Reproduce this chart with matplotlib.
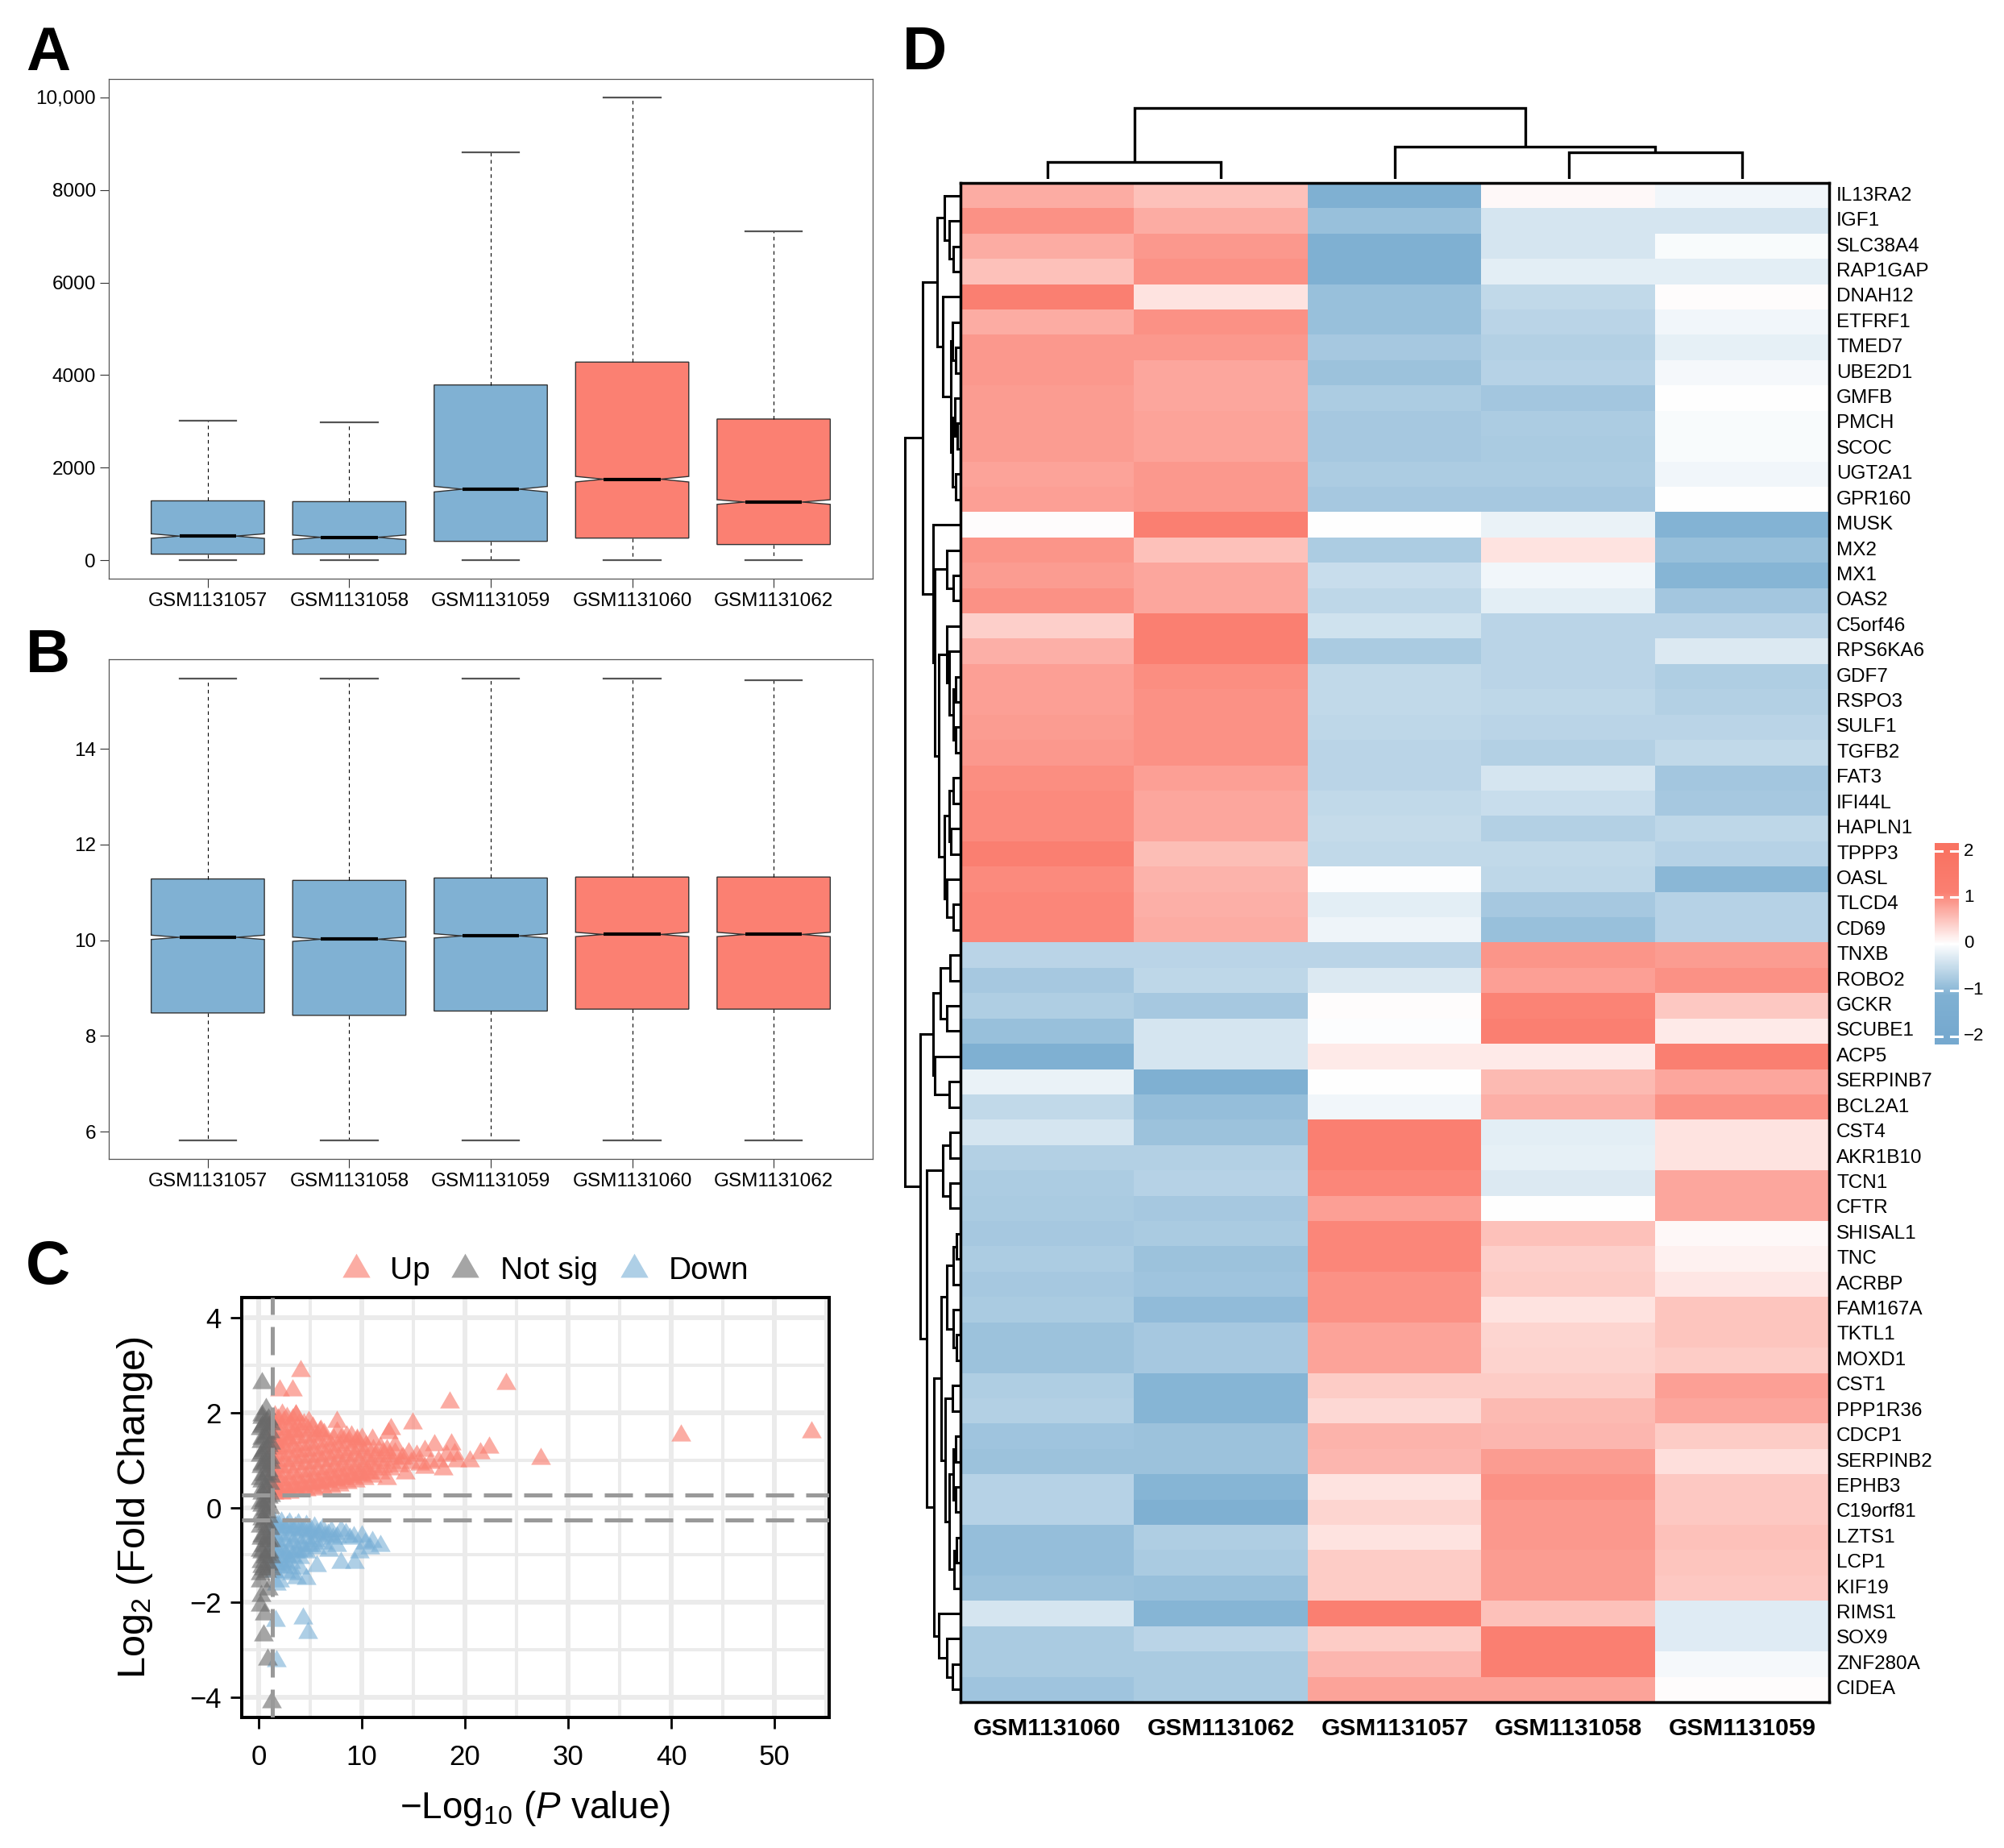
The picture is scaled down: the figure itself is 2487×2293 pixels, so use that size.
import numpy as np
import matplotlib
matplotlib.use('Agg')
import matplotlib.pyplot as plt
from matplotlib import font_manager as fm
from matplotlib.colors import LinearSegmentedColormap

plt.rcParams['font.family'] = ['Liberation Sans', 'DejaVu Sans']
plt.rcParams['mathtext.fontset'] = 'custom'
plt.rcParams['mathtext.rm'] = 'Liberation Sans'
plt.rcParams['mathtext.it'] = 'Liberation Sans:italic'
plt.rcParams['mathtext.bf'] = 'Liberation Sans:bold'

_names = {f.name for f in fm.fontManager.ttflist}
NARROW = 'Liberation Sans Narrow' if 'Liberation Sans Narrow' in _names else None

# ---------------- data: panels A and B ----------------
samples = ['GSM1131057', 'GSM1131058', 'GSM1131059', 'GSM1131060', 'GSM1131062']
box_colors = ['#80B1D3', '#80B1D3', '#80B1D3', '#FB8072', '#FB8072']

A_whislo = [0, 0, 0, 0, 0]
A_q1 = [130, 130, 407, 477, 338]
A_med = [520, 494, 1534, 1750, 1256]
A_q3 = [1282, 1265, 3787, 4281, 3050]
A_whishi = [3007, 2972, 8813, 10000, 7106]
A_notch = [50, 50, 60, 60, 50]

B_whislo = [5.81, 5.81, 5.81, 5.81, 5.81]
B_q1 = [8.48, 8.43, 8.52, 8.56, 8.56]
B_med = [10.06, 10.02, 10.09, 10.12, 10.12]
B_q3 = [11.28, 11.25, 11.30, 11.32, 11.32]
B_whishi = [15.47, 15.47, 15.46, 15.46, 15.44]
B_notch = [0.045, 0.045, 0.045, 0.045, 0.045]

# ---------------- data: panel C (volcano) ----------------
up_x = [4.04, 2.0, 3.26, 24.0, 18.5, 7.55, 14.9, 12.8, 12.55, 11.0, 17.0, 18.7, 22.3, 21.5,
        20.5, 27.3, 3.57, 4.87, 5.9, 8.5, 9.5, 16.1, 18.2, 19.2, 16.1, 17.9, 14.2, 12.4, 15.3,
        13.2, 14.5, 17.4, 19.0, 11.8, 40.9, 53.6,
        1.45, 1.6, 1.5, 1.65, 1.45, 1.6, 1.5, 1.65, 1.45, 1.6, 1.5, 1.65, 1.5, 1.6,
        2.2, 2.4, 2.25, 2.45, 2.2, 2.4, 2.3, 2.45, 2.2, 2.4, 2.3, 2.45, 2.3,
        3.0, 3.2, 3.05, 3.25, 3.0, 3.2, 3.1, 3.25, 3.0, 3.2, 3.1, 3.3,
        3.8, 4.0, 3.85, 4.05, 3.8, 4.0, 3.9, 4.05, 3.85, 4.0, 3.9,
        4.6, 4.8, 4.65, 4.85, 4.6, 4.8, 4.7, 4.85, 4.65, 4.8,
        5.4, 5.6, 5.45, 5.65, 5.4, 5.6, 5.5, 5.65, 5.5,
        6.2, 6.4, 6.25, 6.45, 6.2, 6.4, 6.3, 6.45, 6.3,
        7.0, 7.2, 7.05, 7.25, 7.0, 7.2, 7.1, 7.25,
        7.8, 8.0, 7.85, 8.05, 7.8, 8.0, 7.9, 8.05,
        8.6, 8.8, 8.65, 8.85, 8.6, 8.8, 8.7,
        9.4, 9.6, 9.45, 9.65, 9.4, 9.6, 9.5,
        10.2, 10.4, 10.25, 10.45, 10.2, 10.4,
        11.0, 11.2, 11.05, 11.25, 11.1,
        11.8, 12.0, 11.85, 12.05,
        12.7, 12.9, 12.75, 13.6, 13.8,
        1.9, 2.7, 3.5, 4.3, 5.1, 5.9, 6.7, 7.5, 8.3, 9.1, 9.9, 10.7, 1.9, 2.7, 3.5,
        1.9, 2.7, 3.6, 4.4, 5.2, 6.0, 7.6, 9.0, 10.0, 12.4, 13.2, 14.0, 14.8, 15.6, 16.6]
up_y = [2.87, 2.47, 2.47, 2.60, 2.22, 1.80, 1.77, 1.66, 1.57, 1.43, 1.32, 1.34, 1.26, 1.15,
        0.98, 1.03, 1.94, 1.80, 1.60, 1.51, 1.43, 1.20, 1.09, 0.98, 0.84, 0.81, 0.72, 0.61, 1.09,
        1.32, 1.15, 0.98, 1.12, 1.26, 1.52, 1.59,
        0.29, 0.40, 0.52, 0.64, 0.76, 0.88, 1.00, 1.12, 1.24, 1.37, 1.50, 1.63, 1.77, 1.92,
        0.30, 0.43, 0.57, 0.70, 0.84, 0.97, 1.10, 1.24, 1.38, 1.52, 1.66, 1.80, 1.96,
        0.32, 0.45, 0.59, 0.72, 0.86, 1.00, 1.14, 1.28, 1.42, 1.56, 1.71, 1.86,
        0.34, 0.48, 0.62, 0.76, 0.90, 1.04, 1.18, 1.32, 1.46, 1.61, 1.76,
        0.36, 0.50, 0.64, 0.78, 0.92, 1.06, 1.20, 1.34, 1.48, 1.63,
        0.38, 0.52, 0.66, 0.80, 0.94, 1.08, 1.22, 1.36, 1.52,
        0.41, 0.55, 0.69, 0.83, 0.97, 1.11, 1.25, 1.40, 1.55,
        0.44, 0.58, 0.72, 0.86, 1.00, 1.14, 1.28, 1.43,
        0.47, 0.61, 0.75, 0.89, 1.03, 1.17, 1.31, 1.46,
        0.51, 0.65, 0.79, 0.93, 1.07, 1.21, 1.36,
        0.55, 0.69, 0.83, 0.97, 1.11, 1.25, 1.40,
        0.60, 0.74, 0.88, 1.02, 1.16, 1.30,
        0.66, 0.80, 0.94, 1.08, 1.22,
        0.72, 0.86, 1.00, 1.14,
        0.80, 0.94, 1.08, 0.88, 1.02,
        0.35, 0.38, 0.40, 0.44, 0.47, 0.50, 0.53, 0.56, 0.60, 0.63, 0.68, 0.72, 1.30, 1.45, 1.60,
        1.85, 1.90, 1.95, 1.75, 1.68, 1.62, 1.58, 1.50, 1.45, 1.22, 1.15, 1.05, 0.95, 0.90, 0.95]

ns_x = [0.15, 0.5, 0.9, 0.2, 0.6, 1.0, 0.15, 0.5, 0.95, 0.2, 0.6, 1.1, 0.15, 0.5, 0.9, 0.2,
        0.6, 1.1, 0.15, 0.5, 0.95, 0.2, 0.6, 1.1, 0.15, 0.5, 0.95, 0.2, 0.6, 1.1, 0.15, 0.5,
        0.95, 0.2, 0.6, 1.1, 0.15, 0.5, 0.95, 0.3, 0.7,
        0.35, 0.35, 0.35, 0.35, 0.35, 0.35, 0.35, 0.35, 0.35, 0.35, 0.35, 0.35,
        0.75, 0.75, 0.75, 0.75, 0.75, 0.75, 0.75, 0.75, 0.75, 0.75, 0.75, 0.75,
        1.15, 1.15, 1.15, 1.15, 1.15, 1.15, 1.15, 1.15,
        0.35, 0.18, 0.96, 0.25, 0.18, 0.57, 0.44, 0.83, 1.22]
ns_y = [-1.40, -1.30, -1.20, -1.15, -1.05, -0.95, -0.90, -0.80, -0.70, -0.65, -0.55, -0.45,
        -0.40, -0.30, -0.20, -0.15, -0.05, 0.00, 0.10, 0.15, 0.22, 0.35, 0.42, 0.50, 0.60,
        0.68, 0.78, 0.85, 0.95, 1.05, 1.10, 1.20, 1.30, 1.38, 1.48, 1.58, 1.65, 1.75, 1.85,
        1.95, 2.08,
        -1.25, -0.95, -0.60, -0.25, 0.05, 0.30, 0.55, 0.90, 1.15, 1.45, 1.70, 1.90,
        -1.35, -1.00, -0.65, -0.35, -0.10, 0.12, 0.40, 0.70, 1.00, 1.25, 1.55, 1.80,
        -1.30, -1.05, -0.70, 0.25, 0.65, 0.95, 1.35, 1.75,
        2.62, -1.56, -1.73, -1.85, -2.07, -2.24, -2.69, -3.20, -4.10]

down_x = [1.45, 1.6, 1.5, 1.65, 1.45, 1.6, 1.5, 1.65, 1.5,
          2.2, 2.4, 2.25, 2.45, 2.2, 2.4, 2.3, 2.45,
          3.0, 3.2, 3.05, 3.25, 3.0, 3.2, 3.1,
          3.8, 4.0, 3.85, 4.05, 3.8, 4.0,
          4.6, 4.8, 4.65, 4.85, 4.6,
          5.4, 5.6, 5.45, 5.65,
          6.2, 6.4, 6.25,
          7.0, 7.2,
          1.9, 2.7, 3.5, 4.3, 5.1, 5.9, 6.7, 1.9, 2.7, 3.5, 4.3, 5.1, 1.9, 2.7, 6.8, 7.6,
          8.4, 9.2, 10.0, 10.8,
          1.61, 4.3, 4.74, 1.74, 8.0, 9.3, 11.8, 11.0, 9.8, 3.96, 4.6, 3.7, 5.65, 1.74,
          2.66, 8.0, 8.8, 7.6, 10.3, 2.0, 3.2]
down_y = [-0.30, -0.42, -0.55, -0.68, -0.81, -0.94, -1.07, -1.20, -1.35,
          -0.31, -0.44, -0.57, -0.70, -0.84, -0.98, -1.12, -1.27,
          -0.33, -0.46, -0.60, -0.74, -0.88, -1.02, -1.16,
          -0.35, -0.49, -0.63, -0.77, -0.92, -1.06,
          -0.38, -0.52, -0.66, -0.80, -0.95,
          -0.41, -0.55, -0.70, -0.85,
          -0.45, -0.60, -0.75,
          -0.50, -0.65,
          -0.36, -0.40, -0.42, -0.45, -0.48, -0.52, -0.56, -0.90, -1.05, -0.95, -0.90, -0.80,
          -1.25, -1.20, -0.90, -0.62, -0.55, -0.62, -0.60, -0.85,
          -2.38, -2.33, -2.64, -3.23, -1.17, -1.17, -0.80, -0.72, -0.94, -1.28, -1.51, -1.48,
          -1.23, -1.62, -1.37, -0.49, -0.66, -0.80, -0.75, -1.55, -1.40]

p_cut = 1.301
fc_cut = 0.263

# ---------------- data: panel D (heatmap) ----------------
hm_samples = ['GSM1131060', 'GSM1131062', 'GSM1131057', 'GSM1131058', 'GSM1131059']
genes = ['IL13RA2', 'IGF1', 'SLC38A4', 'RAP1GAP', 'DNAH12', 'ETFRF1', 'TMED7', 'UBE2D1',
         'GMFB', 'PMCH', 'SCOC', 'UGT2A1', 'GPR160', 'MUSK', 'MX2', 'MX1', 'OAS2', 'C5orf46',
         'RPS6KA6', 'GDF7', 'RSPO3', 'SULF1', 'TGFB2', 'FAT3', 'IFI44L', 'HAPLN1', 'TPPP3',
         'OASL', 'TLCD4', 'CD69', 'TNXB', 'ROBO2', 'GCKR', 'SCUBE1', 'ACP5', 'SERPINB7',
         'BCL2A1', 'CST4', 'AKR1B10', 'TCN1', 'CFTR', 'SHISAL1', 'TNC', 'ACRBP', 'FAM167A',
         'TKTL1', 'MOXD1', 'CST1', 'PPP1R36', 'CDCP1', 'SERPINB2', 'EPHB3', 'C19orf81',
         'LZTS1', 'LCP1', 'KIF19', 'RIMS1', 'SOX9', 'ZNF280A', 'CIDEA']
hm_values = [
    [0.72, 0.54, -1.14, 0.06, -0.12],
    [0.96, 0.72, -0.90, -0.36, -0.36],
    [0.72, 0.90, -1.14, -0.36, -0.06],
    [0.54, 0.96, -1.14, -0.24, -0.24],
    [1.17, 0.24, -0.90, -0.54, 0.03],
    [0.72, 0.96, -0.90, -0.60, -0.12],
    [0.90, 0.90, -0.78, -0.66, -0.21],
    [0.90, 0.78, -0.87, -0.63, -0.09],
    [0.87, 0.78, -0.72, -0.81, 0.00],
    [0.87, 0.81, -0.78, -0.72, -0.06],
    [0.87, 0.81, -0.78, -0.75, -0.06],
    [0.81, 0.90, -0.72, -0.72, -0.12],
    [0.84, 0.90, -0.78, -0.78, 0.00],
    [0.03, 1.14, 0.00, -0.18, -1.08],
    [0.93, 0.54, -0.72, 0.24, -0.90],
    [0.87, 0.78, -0.48, -0.12, -1.05],
    [0.96, 0.78, -0.57, -0.24, -0.81],
    [0.42, 1.14, -0.42, -0.60, -0.60],
    [0.69, 1.11, -0.75, -0.60, -0.30],
    [0.84, 0.99, -0.54, -0.60, -0.69],
    [0.84, 0.96, -0.54, -0.57, -0.66],
    [0.87, 0.96, -0.57, -0.60, -0.60],
    [0.90, 0.96, -0.60, -0.66, -0.54],
    [0.99, 0.84, -0.60, -0.36, -0.81],
    [1.02, 0.78, -0.54, -0.48, -0.78],
    [1.02, 0.78, -0.51, -0.66, -0.57],
    [1.17, 0.57, -0.54, -0.54, -0.63],
    [1.02, 0.66, -0.03, -0.57, -1.02],
    [1.05, 0.69, -0.24, -0.78, -0.63],
    [1.05, 0.72, -0.15, -0.90, -0.63],
    [-0.60, -0.60, -0.60, 0.93, 0.87],
    [-0.78, -0.57, -0.30, 0.84, 0.96],
    [-0.69, -0.78, 0.03, 1.08, 0.48],
    [-0.90, -0.36, -0.03, 1.17, 0.18],
    [-1.14, -0.36, 0.18, 0.18, 1.17],
    [-0.18, -1.14, 0.00, 0.60, 0.78],
    [-0.54, -0.93, -0.12, 0.69, 0.96],
    [-0.36, -0.87, 1.17, -0.24, 0.24],
    [-0.66, -0.66, 1.17, -0.21, 0.24],
    [-0.72, -0.63, 1.05, -0.30, 0.78],
    [-0.75, -0.78, 0.84, 0.00, 0.78],
    [-0.78, -0.75, 1.05, 0.54, 0.06],
    [-0.72, -0.87, 1.05, 0.42, 0.12],
    [-0.78, -0.84, 0.96, 0.45, 0.21],
    [-0.75, -0.96, 0.96, 0.24, 0.51],
    [-0.87, -0.78, 0.81, 0.36, 0.51],
    [-0.87, -0.78, 0.81, 0.39, 0.45],
    [-0.69, -1.05, 0.45, 0.45, 0.84],
    [-0.66, -1.05, 0.33, 0.60, 0.78],
    [-0.84, -0.87, 0.66, 0.63, 0.45],
    [-0.87, -0.87, 0.63, 0.87, 0.27],
    [-0.63, -1.05, 0.24, 0.96, 0.48],
    [-0.63, -1.14, 0.36, 0.90, 0.48],
    [-0.93, -0.69, 0.24, 0.90, 0.54],
    [-0.93, -0.75, 0.45, 0.87, 0.51],
    [-0.87, -0.90, 0.45, 0.87, 0.48],
    [-0.36, -1.05, 1.17, 0.54, -0.27],
    [-0.75, -0.60, 0.45, 1.17, -0.27],
    [-0.75, -0.75, 0.63, 1.11, -0.09],
    [-0.84, -0.75, 0.81, 0.81, 0.03],
]

# dendrograms: (height, left, right); leaves are 1-based positions
row_tree = (68,
  (46,
    (28,
      (19, 1, (13, 2, (8, 3, 4))),
      (21, 5, (11, (9, 6, (5, 7, 8)), (9, (6, 9, (3, 10, 11)), (5, 12, 13))))),
    (33, 14,
      (31, (16, 15, (8, 16, 17)),
        (26,
          (16, 18, (13, 19, (8, (5, 20, 21), (5, 22, 23)))),
          (19, (13, (8, 24, 25), (11, 26, 27)), (16, 28, (8, 29, 30))))))),
  (49,
    (33, (24, (12, 31, 32), (16, 33, 34)), (31, 35, (13, 36, 37))),
    (41,
      (21, (12, 38, 39), (12, 40, 41)),
      (32,
        (23, (16, (8, (4, 42, 43), 44), (8, 45, (4, 46, 47))),
             (18, (9, 48, 49), (13, (8, (5, 50, 51), (5, 52, 53)), (7, (4, 54, 55), 56)))),
        (26, 57, (16, 58, (9, 59, 60)))))))
col_tree = (88, (21, 1, 2), (40, 3, (33, 4, 5)))

cbar_ticks = [2, 1, 0, -1, -2]
cbar_labels = ['2', '1', '0', '\u22121', '\u22122']

# ---------------- figure ----------------
W, H = 2487, 2293
DPI = 100
fig = plt.figure(figsize=(W / DPI, H / DPI), dpi=DPI)


def px_axes(l, t, r, b, **kw):
    return fig.add_axes([l / W, 1 - b / H, (r - l) / W, (b - t) / H], **kw)


def box_panel(ax, lo, q1, med, q3, hi, notch, ylim, yticks, yticklabels):
    stats = []
    for i in range(5):
        stats.append(dict(med=med[i], q1=q1[i], q3=q3[i], whislo=lo[i], whishi=hi[i],
                          cilo=med[i] - notch[i], cihi=med[i] + notch[i], fliers=[]))
    bp = ax.bxp(stats, positions=[1, 2, 3, 4, 5], widths=0.8, shownotches=True,
                patch_artist=True, showfliers=False, manage_ticks=False,
                boxprops=dict(edgecolor='#333333', linewidth=1.0),
                whiskerprops=dict(color='black', linestyle=(0, (4, 4)), linewidth=0.8),
                capprops=dict(color='#555555', linewidth=1.6),
                medianprops=dict(color='black', linewidth=3.0))
    for patch, c in zip(bp['boxes'], box_colors):
        patch.set_facecolor(c)
    ax.set_xlim(0.3, 5.7)
    ax.set_ylim(*ylim)
    ax.set_xticks([1, 2, 3, 4, 5])
    ax.set_xticklabels(samples)
    ax.set_yticks(yticks)
    ax.set_yticklabels(yticklabels)
    ax.tick_params(axis='both', length=8, width=0.8, color='#333333', labelsize=17.5)
    ax.tick_params(axis='x', pad=4)
    ax.tick_params(axis='y', pad=3.5)
    for s in ax.spines.values():
        s.set_color('#555555')
        s.set_linewidth(0.9)


# Panel A
axA = px_axes(135, 98, 1083, 718)
box_panel(axA, A_whislo, A_q1, A_med, A_q3, A_whishi, A_notch, (-400, 10400),
          [0, 2000, 4000, 6000, 8000, 10000], ['0', '2000', '4000', '6000', '8000', '10,000'])

# Panel B
axB = px_axes(135, 818, 1083, 1438)
box_panel(axB, B_whislo, B_q1, B_med, B_q3, B_whishi, B_notch, (5.43, 15.87),
          [6, 8, 10, 12, 14], ['6', '8', '10', '12', '14'])

# Panel C
axC = px_axes(300, 1610, 1029, 2131)
axC.set_xlim(-1.64, 55.3)
axC.set_ylim(-4.42, 4.42)
axC.set_xticks([0, 10, 20, 30, 40, 50])
axC.set_xticks([5, 15, 25, 35, 45, 55], minor=True)
axC.set_yticks([-4, -2, 0, 2, 4])
axC.set_yticklabels(['\u22124', '\u22122', '0', '2', '4'])
axC.set_yticks([-3, -1, 1, 3], minor=True)
axC.set_axisbelow(True)
axC.grid(which='major', color='#EBEBEB', linewidth=4.3)
axC.grid(which='minor', color='#EBEBEB', linewidth=2.9)
axC.tick_params(which='minor', length=0)
axC.tick_params(which='major', length=10, width=2.0, color='black', labelsize=25)
axC.tick_params(axis='x', pad=14)
axC.tick_params(axis='y', pad=8)
for s in axC.spines.values():
    s.set_color('black')
    s.set_linewidth(2.9)
tri = (3, 0, 0)
MS = 420
axC.scatter(up_x, up_y, marker=tri, s=MS, color='#FA8072', alpha=0.65, linewidths=0, zorder=2)
axC.scatter(down_x, down_y, marker=tri, s=MS, color='#78AFD6', alpha=0.6, linewidths=0, zorder=2)
axC.scatter(ns_x, ns_y, marker=tri, s=MS, color='#696969', alpha=0.6, linewidths=0, zorder=3)
for yv in (fc_cut, -fc_cut):
    axC.axhline(yv, color='#999999', linewidth=3.6, linestyle=(0, (7, 3)), zorder=4)
axC.axvline(p_cut, color='#999999', linewidth=3.6, linestyle=(0, (7, 3)), zorder=4)

# Panel D heatmap
vals = np.array(hm_values)
cmap = LinearSegmentedColormap.from_list(
    'bwr_custom', [(0.0, '#76A9CF'), (0.22, '#80B1D3'), (0.5, '#FFFFFF'),
                   (0.78, '#FB8072'), (1.0, '#F97362')])
axH = px_axes(1192, 227, 2270, 2112)
axH.imshow(vals, cmap=cmap, vmin=-2, vmax=2, aspect='auto', interpolation='nearest',
           extent=(0.5, 5.5, 60.5, 0.5))
axH.set_xticks([])
axH.set_yticks([])
for s in axH.spines.values():
    s.set_color('black')
    s.set_linewidth(2.5)


def draw_tree(ax, node, orient):
    if isinstance(node, int):
        return float(node), 0.0
    h, left, right = node
    pl, hl = draw_tree(ax, left, orient)
    pr, hr = draw_tree(ax, right, orient)
    if orient == 'row':
        ax.plot([hl, h, h, hr], [pl, pl, pr, pr], color='black', linewidth=2.2,
                solid_joinstyle='miter', solid_capstyle='butt')
    else:
        ax.plot([pl, pl, pr, pr], [hl, h, h, hr], color='black', linewidth=2.4,
                solid_joinstyle='miter', solid_capstyle='butt')
    return (pl + pr) / 2.0, h


axRD = px_axes(1118, 227, 1191, 2112)
draw_tree(axRD, row_tree, 'row')
axRD.set_xlim(73, 0)
axRD.set_ylim(60.5, 0.5)
axRD.axis('off')

axCD = px_axes(1192, 125, 2270, 222)
draw_tree(axCD, col_tree, 'col')
axCD.set_xlim(0.5, 5.5)
axCD.set_ylim(0, 97)
axCD.axis('off')

# colour bar
cax = px_axes(2401, 1046, 2431, 1296)
grad = np.linspace(2.17, -2.17, 300)[:, None]
cax.imshow(grad, cmap=cmap, vmin=-2, vmax=2, aspect='auto', extent=(0, 1, -2.17, 2.17))
cax.set_xlim(0, 1)
cax.set_ylim(-2.17, 2.17)
for t in cbar_ticks:
    cax.plot([0, 0.3], [t, t], color='white', linewidth=2.2)
    cax.plot([0.68, 1.0], [t, t], color='white', linewidth=2.2)
cax.axis('off')

# ---------------- overlay text ----------------
ov = fig.add_axes([0, 0, 1, 1])
ov.set_xlim(0, W)
ov.set_ylim(H, 0)
ov.axis('off')

for lab, x, y in [('A', 32, 87), ('B', 32, 834), ('C', 32, 1593), ('D', 1120, 86)]:
    ov.text(x, y, lab, fontsize=55, fontweight='bold', ha='left', va='baseline')

# heatmap labels
row_h = (2112 - 227) / 60.0
if NARROW:
    rfam, rsize = [NARROW, 'Liberation Sans'], 19.5
else:
    rfam, rsize = ['Liberation Sans', 'DejaVu Sans'], 17.5
for i, g in enumerate(genes):
    ov.text(2279, 227 + (i + 0.5) * row_h, g, fontsize=rsize, family=rfam,
            ha='left', va='center')
col_w = (2270 - 1192) / 5.0
for j, s in enumerate(hm_samples):
    ov.text(1192 + (j + 0.5) * col_w, 2145, s, fontsize=21.5, fontweight='bold',
            ha='center', va='center')
for t, lab in zip(cbar_ticks, cbar_labels):
    ov.text(2437, 1171 - t * 57.25, lab, fontsize=16, ha='left', va='center')

# volcano legend and titles
leg_items = [('Up', '#FA8072', 0.65, 442, 484), ('Not sig', '#696969', 0.6, 577, 621),
             ('Down', '#78AFD6', 0.6, 787, 830)]
for lab, col, al, mx, tx in leg_items:
    ov.scatter([mx], [1575], marker=tri, s=820, color=col, alpha=al, linewidths=0)
    ov.text(tx, 1587, lab, fontsize=28, ha='left', va='baseline')
ov.text(168, 1870, 'Log$_2$ (Fold Change)', fontsize=35, rotation=90, ha='center', va='center')
ov.text(664, 2244, '\u2212Log$_{10}$ ($P$ value)', fontsize=33, ha='center', va='center')

fig.savefig('out.png', dpi=DPI)
